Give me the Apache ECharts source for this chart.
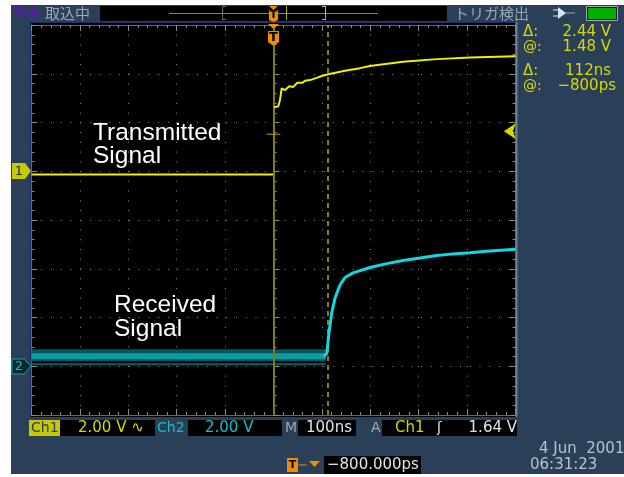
<!DOCTYPE html>
<html lang="en">
<head>
  <meta charset="UTF-8">
  <title>scope</title>
  <style>
    * { padding: 0; margin: 0; }
    html, body { background: #fff; }
    #charts { width: 624px; height: 477px; }
  </style>
</head>
<body>
  <div id="charts"></div>
  <script src="https://cdn.jsdelivr.net/npm/echarts@6/dist/echarts.min.js"></script>
  <script>
    // time in ns from the trigger, volts on each channel's own 2 V/div scale
    var ch1Time = [-500, -1, 0, 1, 9.9, 13.4, 16.9, 23.8, 32.6, 40.9, 49.2, 60.3, 65, 75.4, 89.3, 99.6, 113.2, 130.6, 147.7, 178.7, 199.4, 267.6, 337.8, 406, 500]
    var ch1Volts = [-0.135, -0.135, null, 2.62, 2.67, 2.92, 3.40, 3.33, 3.49, 3.46, 3.63, 3.63, 3.71, 3.74, 3.83, 3.91, 3.98, 4.05, 4.12, 4.23, 4.32, 4.49, 4.60, 4.67, 4.72]
    var ch2Time = [104, 110, 115.3, 120.2, 127, 130.6, 137.4, 147.7, 164.3, 199.4, 233.9, 267.6, 302.7, 337.2, 371, 406, 440.5, 500]
    var ch2Volts = [0.41, 0.52, 1.48, 2.18, 2.79, 2.98, 3.33, 3.64, 3.83, 4.05, 4.21, 4.34, 4.44, 4.54, 4.61, 4.66, 4.72, 4.80]
    var noiseTime = [-500, 108]
    var noiseVolts = [0.45, 0.45]
    var coreVolts = [0.41, 0.41]
    var ghostVolts = [0.08, 0.08]
    var triggerTime = 0
    var cursorTime = 112
    var triggerLevel = 1.64
    var levelTickTime = [-14, 14]
    var levelTickVolts = [1.52, 1.52]

    var gray = '#9aa8b6', yellow = '#d8d800', cyan = '#10c0c8', dot = '#8c8c80'
    var monoFont = '"DejaVu Sans"'

    function pairs(xs, ys) {
      return xs.map(function (x, i) { return [x, ys[i]] })
    }
    function label(text, x, y, color, size, align, family, weight) {
      return {
        type: 'text', x: x, y: y, z: 20, silent: true,
        style: {
          text: text, fill: color,
          font: (weight || 'normal') + ' ' + size + 'px ' + (family || monoFont),
          textAlign: align || 'left', textVerticalAlign: 'middle'
        }
      }
    }
    function box(x, y, w, h, color, z, stroke) {
      return {
        type: 'rect', z: z || 1, silent: true,
        shape: { x: x, y: y, width: w, height: h },
        style: { fill: color, stroke: stroke || null, lineWidth: stroke ? 1 : 0 }
      }
    }
    function poly(points, color, stroke) {
      return {
        type: 'polygon', z: 10, silent: true, shape: { points: points },
        style: { fill: color, stroke: stroke || null, lineWidth: stroke ? 1 : 0 }
      }
    }
    function seg(x1, y1, x2, y2, color, width, z) {
      return {
        type: 'line', z: z || 10, silent: true,
        shape: { x1: x1, y1: y1, x2: x2, y2: y2 },
        style: { stroke: color, lineWidth: width || 1 }
      }
    }

    var tickStyle = { show: true, inside: true, length: 6, lineStyle: { color: dot, width: 1 } }
    var minorStyle = { show: true, splitNumber: 5, length: 3, lineStyle: { color: dot, width: 1 } }
    var edgeLine = { show: true, onZero: false, lineStyle: { color: '#5d6a78', width: 1 } }
    var centerLine = { show: false, onZero: false }

    function timeAxis(position, offset, grid, line) {
      return {
        type: 'value', min: -500, max: 500, interval: 100, position: position, offset: offset, z: 3,
        axisLabel: { show: false }, axisLine: line, axisTick: tickStyle, minorTick: minorStyle,
        splitLine: { show: grid, lineStyle: { color: dot, width: 1, type: [1, 8.74] } }
      }
    }
    function voltAxis(min, max, interval, position, offset, grid, line) {
      return {
        type: 'value', min: min, max: max, interval: interval, position: position, offset: offset, z: 3,
        axisLabel: { show: false }, axisLine: line, axisTick: tickStyle, minorTick: minorStyle,
        splitLine: { show: grid, lineStyle: { color: dot, width: 1, type: [1, 8.74] } }
      }
    }

    var graphics = [
      box(11, 5, 613, 469, '#2a4058', 0),
      box(30, 22, 487, 395, '#000', 1),
      seg(30.5, 22, 30.5, 417, '#1d2a6a', 1, 2),
      seg(30, 22.5, 517, 22.5, '#1d2a6a', 1, 2),
      seg(516.5, 22, 516.5, 417, '#6f8091', 2, 2),
      box(100, 6, 347, 15, '#000', 1),

      // record view strip
      seg(169, 13.5, 378, 13.5, '#8a8a10', 1),
      seg(222.5, 6, 222.5, 20, '#6c6c60', 1),
      seg(222.5, 6.5, 226, 6.5, '#6c6c60', 1),
      seg(222.5, 19.5, 226, 19.5, '#6c6c60', 1),
      seg(325.5, 6, 325.5, 20, '#b0b0a0', 1),
      seg(322, 6.5, 325.5, 6.5, '#b0b0a0', 1),
      seg(322, 19.5, 325.5, 19.5, '#b0b0a0', 1),
      seg(286.5, 6, 286.5, 20, '#a8a800', 1),
      poly([[269, 6], [278, 6], [273.5, 10]], '#f08c00'),
      poly([[269, 10], [278, 10], [278, 20], [273.5, 22], [269, 20]], '#f08c00'),
      label('T', 273.5, 15, '#000', 11, 'center', monoFont, 'bold'),

      // trigger flag at top of the graticule
      poly([[268, 24], [279, 24], [273.5, 29]], '#f08c00'),
      poly([[268, 31], [279, 31], [279, 42], [273.5, 46], [268, 42]], '#f08c00'),
      label('T', 273.5, 38, '#000', 13, 'center', monoFont, 'bold'),

      // channel markers
      poly([[12, 163], [25, 163], [31, 171], [25, 179], [12, 179]], '#c8c800'),
      label('1', 19, 171.5, '#1a2a30', 13, 'center'),
      poly([[12, 359], [24, 359], [31, 366], [24, 374], [12, 374]], '#04282e', '#10a8b0'),
      label('2', 19, 367, '#10c0c8', 13, 'center'),

      // header
      label('Tek', 12, 13.5, '#5a1aa8', 17, 'left', '"Liberation Sans"', 'bold'),
      label('取込中', 45, 13.5, gray, 15, 'left', '"Noto Sans CJK JP"'),
      label('トリガ検出', 454, 13.5, gray, 15, 'left', '"Noto Sans CJK JP"'),
      seg(553, 10, 558, 10, '#dfe5ea', 1),
      seg(553, 16, 558, 16, '#dfe5ea', 1),
      poly([[558, 7], [566, 13], [558, 19]], '#dfe5ea'),
      seg(566, 13, 575, 13, '#9aa8b6', 1),
      box(586.5, 6.5, 31, 14, '#0a1420', 5, '#9aa8b6'),
      box(588, 8, 28, 11, '#00b000', 6),

      // cursor readout
      label('Δ:', 523, 32, yellow, 15, 'left'),
      label('@:', 523, 47, yellow, 14, 'left'),
      label('Δ:', 523, 71, yellow, 15, 'left'),
      label('@:', 523, 86, yellow, 14, 'left'),
      label('2.44 V', 611, 32, yellow, 15, 'right'),
      label('1.48 V', 611, 47, yellow, 15, 'right'),
      label('112ns', 611, 71, yellow, 15, 'right'),
      label('−800ps', 616, 86, yellow, 15, 'right'),

      // trace names
      label('Transmitted', 93, 133, '#fff', 24.5, 'left', '"Liberation Sans"'),
      label('Signal', 93, 156, '#fff', 24.5, 'left', '"Liberation Sans"'),
      label('Received', 114, 305, '#fff', 24.5, 'left', '"Liberation Sans"'),
      label('Signal', 114, 329, '#fff', 24.5, 'left', '"Liberation Sans"'),

      // bottom settings bar
      box(29, 420, 31, 16, '#c8c800', 2),
      label('Ch1', 31, 428, '#2a4058', 14, 'left'),
      box(60, 420, 95, 16, '#000', 2),
      label('2.00 V ∿', 78, 428, yellow, 15, 'left'),
      label('Ch2', 157, 428, cyan, 14, 'left'),
      box(188, 420, 94, 16, '#000', 2),
      label('2.00 V', 205, 428, cyan, 15, 'left'),
      label('M', 285, 428, gray, 14, 'left'),
      box(298, 420, 58, 16, '#000', 2),
      label('100ns', 306, 428, '#dfe5ea', 15, 'left'),
      label('A', 371, 428, gray, 14, 'left'),
      box(382, 420, 135, 16, '#000', 2),
      label('Ch1', 395, 428, yellow, 15, 'left'),
      label('ʃ', 437, 428, '#dfe5ea', 14, 'left'),
      label('1.64 V', 517, 428, '#dfe5ea', 15, 'right'),

      // time position
      box(287, 458, 11, 14, '#f08c00', 2),
      label('T', 292.5, 465, '#000', 11, 'center', monoFont, 'bold'),
      seg(299, 465, 307, 465, '#f08c00', 1),
      poly([[309, 461], [320, 461], [314.5, 467]], '#f08c00'),
      box(324, 456, 97, 18, '#000', 2),
      label('−800.000ps', 327, 465, '#dfe5ea', 15, 'left'),
      label('4 Jun  2001', 539, 449, '#b8c2cc', 15, 'left'),
      label('06:31:23', 530, 465, '#b8c2cc', 15, 'left')
    ]

    var myChart = echarts.init(document.getElementById('charts'))
    myChart.setOption({
      animation: false,
      backgroundColor: '#fff',
      grid: { left: 31.5, top: 25, width: 484, height: 390 },
      xAxis: [
        timeAxis('bottom', 0, true, edgeLine),
        timeAxis('top', 0, false, edgeLine),
        timeAxis('bottom', 195, false, centerLine)
      ],
      yAxis: [
        voltAxis(-10, 6, 2, 'left', 0, true, edgeLine),
        voltAxis(-2, 14, 2, 'right', 0, false, edgeLine),
        voltAxis(-4, 4, 1, 'left', -242, false, centerLine)
      ],
      graphic: graphics,
      series: [
        {
          name: 'Ch2 noise', type: 'line', yAxisIndex: 1, symbol: 'none', z: 4,
          lineStyle: { color: '#07565c', width: 12, cap: 'butt' },
          data: pairs(noiseTime, noiseVolts)
        },
        {
          name: 'Ch2 core', type: 'line', yAxisIndex: 1, symbol: 'none', z: 4,
          lineStyle: { color: '#0c9ca4', width: 6, cap: 'butt' },
          data: pairs(noiseTime, coreVolts)
        },
        {
          name: 'Ch2 lower', type: 'line', yAxisIndex: 1, symbol: 'none', z: 4,
          lineStyle: { color: '#0a6066', width: 2, cap: 'butt' },
          data: pairs(noiseTime, ghostVolts)
        },
        {
          name: 'Ch2', type: 'line', yAxisIndex: 1, symbol: 'none', z: 5,
          lineStyle: { color: '#10d8e0', width: 3 },
          data: pairs(ch2Time, ch2Volts)
        },
        {
          name: 'Ch1', type: 'line', yAxisIndex: 0, symbol: 'none', z: 6, connectNulls: false,
          lineStyle: { color: '#f0f000', width: 2 },
          data: pairs(ch1Time, ch1Volts),
          markLine: {
            silent: true, symbol: 'none', label: { show: false },
            data: [
              { xAxis: triggerTime, lineStyle: { color: '#7d7d10', width: 2, type: 'solid' } },
              { xAxis: cursorTime, lineStyle: { color: '#b0b000', width: 1.5, type: [5, 4] } }
            ]
          },
          markPoint: {
            silent: true, symbol: 'arrow', symbolSize: 12, symbolRotate: 90, label: { show: false },
            itemStyle: { color: yellow },
            data: [{ coord: [476, triggerLevel] }]
          }
        },
        {
          name: 'Level tick', type: 'line', yAxisIndex: 0, symbol: 'none', z: 6,
          lineStyle: { color: '#b0b000', width: 1 },
          data: pairs(levelTickTime, levelTickVolts)
        }
      ]
    })
  </script>
</body>
</html>
